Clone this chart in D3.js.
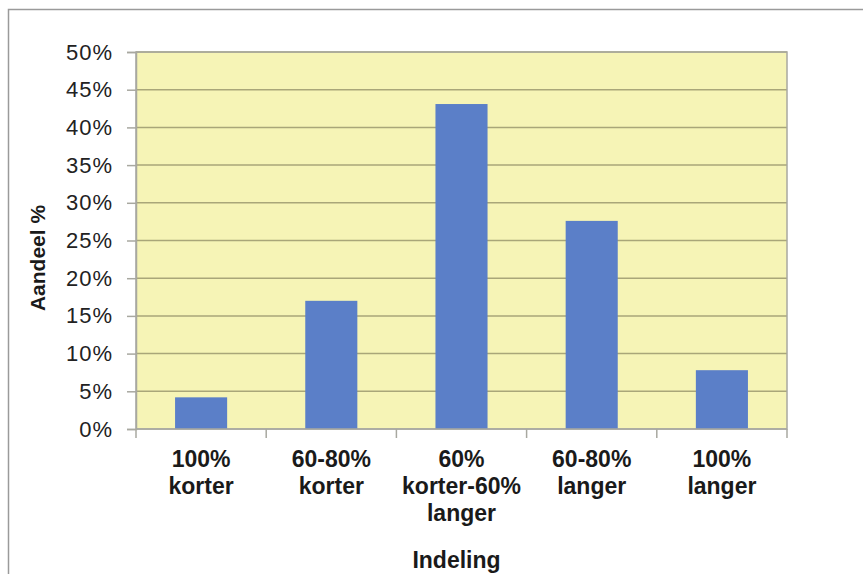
<!DOCTYPE html>
<html>
<head>
<meta charset="utf-8">
<script src="https://cdn.jsdelivr.net/npm/d3@7"></script>
<style>
  body { margin: 0; background: #ffffff; }
  svg { display: block; font-family: "Liberation Sans", Arial, sans-serif; }
</style>
</head>
<body>
<svg id="drawing_region"></svg>
<script>
// categories (multi-line labels) and values in percent
const categories = [
    ["100%", "korter"],
    ["60-80%", "korter"],
    ["60%", "korter-60%", "langer"],
    ["60-80%", "langer"],
    ["100%", "langer"]
];
const values = [4.2, 17.0, 43.1, 27.6, 7.8];
const yticks = [0, 5, 10, 15, 20, 25, 30, 35, 40, 45, 50];
const xtitle = "Indeling";
const ytitle = "Aandeel %";

const config = {
    width: 863,
    height: 574,
    margin: {top: 52, right: 76, bottom: 145, left: 136}
};

const svg = d3.select('#drawing_region')
    .attr('width', config.width)
    .attr('height', config.height);

// outer frame
svg.append('path')
    .attr('d', `M8.5,${config.height} V9.5 H${config.width}`)
    .attr('fill', 'none')
    .attr('stroke', '#9a9a9a')
    .attr('stroke-width', 1.5);

const inner_width = config.width - config.margin.left - config.margin.right;
const inner_height = config.height - config.margin.top - config.margin.bottom;

const chart = svg.append('g')
    .attr('transform', `translate(${config.margin.left}, ${config.margin.top})`);

const xscale = d3.scaleBand()
    .domain(d3.range(categories.length))
    .range([0, inner_width])
    .paddingInner(0.6)
    .paddingOuter(0.3);

const yscale = d3.scaleLinear()
    .domain([0, 50])
    .range([inner_height, 0]);

// plot background
chart.append('rect')
    .attr('width', inner_width)
    .attr('height', inner_height)
    .attr('fill', '#f6f4b6');

// gridlines
chart.append('g')
    .selectAll('line')
    .data(yticks.filter(d => d > 0))
    .join('line')
    .attr('x1', 0)
    .attr('x2', inner_width)
    .attr('y1', d => yscale(d))
    .attr('y2', d => yscale(d))
    .attr('stroke', '#a9a679')
    .attr('stroke-width', 1.5);

// plot border
chart.append('rect')
    .attr('width', inner_width)
    .attr('height', inner_height)
    .attr('fill', 'none')
    .attr('stroke', '#a8a8a0')
    .attr('stroke-width', 1.5);

// bars
chart.selectAll('rect.bar')
    .data(values)
    .join('rect')
    .attr('class', 'bar')
    .attr('x', (d, i) => xscale(i))
    .attr('y', d => yscale(d))
    .attr('width', xscale.bandwidth())
    .attr('height', d => inner_height - yscale(d))
    .attr('fill', '#5b7fc8');

// y axis
const yaxis = d3.axisLeft(yscale)
    .tickValues(yticks)
    .tickSize(9)
    .tickPadding(14)
    .tickFormat(d => d + '%');

const yaxis_group = chart.append('g').call(yaxis);
yaxis_group.select('.domain').attr('stroke', '#a8a8a0').attr('stroke-width', 1.5);
yaxis_group.selectAll('.tick line').attr('stroke', '#a8a8a0').attr('stroke-width', 1.5);
yaxis_group.selectAll('.tick text')
    .attr('font-size', 22)
    .attr('letter-spacing', 1)
    .attr('fill', '#222')
    .attr('font-family', '"Liberation Sans", Arial, sans-serif');

// x axis: tick marks at category boundaries
const step = xscale.step();
const boundaries = d3.range(categories.length + 1).map(i => i * step);
chart.append('line')
    .attr('x1', 0).attr('x2', inner_width)
    .attr('y1', inner_height).attr('y2', inner_height)
    .attr('stroke', '#a8a8a0').attr('stroke-width', 1.5);
chart.append('g')
    .selectAll('line')
    .data(boundaries)
    .join('line')
    .attr('x1', d => d).attr('x2', d => d)
    .attr('y1', inner_height).attr('y2', inner_height + 9)
    .attr('stroke', '#a8a8a0').attr('stroke-width', 1.5);

// category labels
chart.append('g')
    .selectAll('text')
    .data(categories)
    .join('text')
    .attr('text-anchor', 'middle')
    .attr('font-size', 23)
    .attr('font-weight', 'bold')
    .attr('fill', '#1a1a1a')
    .attr('transform', (d, i) => `translate(${xscale(i) + xscale.bandwidth() / 2}, ${inner_height + 38})`)
    .each(function(d) {
        d3.select(this).selectAll('tspan')
            .data(d)
            .join('tspan')
            .attr('x', 0)
            .attr('y', (t, j) => j * 27)
            .text(t => t);
    });

// axis titles
svg.append('text')
    .attr('x', config.margin.left + inner_width / 2 - 5)
    .attr('y', 568)
    .attr('text-anchor', 'middle')
    .attr('font-size', 23)
    .attr('font-weight', 'bold')
    .attr('fill', '#1a1a1a')
    .text(xtitle);

svg.append('text')
    .attr('transform', 'translate(45, 258) rotate(-90)')
    .attr('text-anchor', 'middle')
    .attr('font-size', 21)
    .attr('font-weight', 'bold')
    .attr('fill', '#1a1a1a')
    .text(ytitle);
</script>
</body>
</html>
